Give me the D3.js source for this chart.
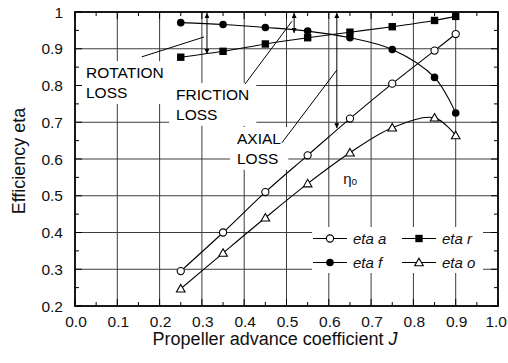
<!DOCTYPE html>
<html>
<head>
<meta charset="utf-8">
<script src="https://cdn.jsdelivr.net/npm/d3@7/dist/d3.min.js"></script>
<style>
  html, body { margin: 0; padding: 0; background: #fff; }
  svg { display: block; font-family: "Liberation Sans", Arial, Helvetica, sans-serif; }
</style>
</head>
<body>
<svg id="chart" width="508" height="363"></svg>
<script>
// Advance coefficient J and the efficiency components
const advanceJ = [0.25, 0.35, 0.45, 0.55, 0.65, 0.75, 0.85, 0.90];
const etaA = [0.295, 0.400, 0.510, 0.610, 0.710, 0.805, 0.895, 0.940];
const etaR = [0.877, 0.893, 0.913, 0.930, 0.945, 0.960, 0.977, 0.988];
const etaF = [0.971, 0.966, 0.958, 0.948, 0.930, 0.898, 0.822, 0.725];
const etaO = [0.247, 0.344, 0.440, 0.533, 0.617, 0.685, 0.712, 0.664];

const xTickValues = [0, 0.1, 0.2, 0.3, 0.4, 0.5, 0.6, 0.7, 0.8, 0.9, 1.0];
const xTickLabels = ["0.0", "0.1", "0.2", "0.3", "0.4", "0.5", "0.6", "0.7", "0.8", "0.9", "1.0"];
const yTickValues = [0.2, 0.3, 0.4, 0.5, 0.6, 0.7, 0.8, 0.9, 1.0];
const yTickLabels = ["0.2", "0.3", "0.4", "0.5", "0.6", "0.7", "0.8", "0.9", "1"];

// Loss annotations (data units)
const lossLabels = [
  { lines: ["ROTATION", "LOSS"], j: 0.026, eta: 0.820 },
  { lines: ["FRICTION", "LOSS"], j: 0.239, eta: 0.7605 },
  { lines: ["AXIAL", "LOSS"], j: 0.383, eta: 0.6408 }
];
const lossArrows = [
  { j: 0.312, top: 1.0, bottom: 0.886 },
  { j: 0.518, top: 1.0, bottom: 0.943 },
  { j: 0.619, top: 1.0, bottom: 0.684 }
];
const leaderLines = [
  { j1: 0.158, e1: 0.878, j2: 0.305, e2: 0.932 },
  { j1: 0.402, e1: 0.804, j2: 0.513, e2: 0.975 },
  { j1: 0.489, e1: 0.644, j2: 0.619, e2: 0.842 }
];
const etaOLabel = { j: 0.634, eta: 0.532 };

const series = [
  { name: "eta a", values: etaA, marker: "circle-open" },
  { name: "eta r", values: etaR, marker: "square" },
  { name: "eta f", values: etaF, marker: "circle-filled" },
  { name: "eta o", values: etaO, marker: "triangle" }
];

const margin = { left: 75, top: 12, right: 10, bottom: 57 };
const W = 508, H = 363;
const pw = W - margin.left - margin.right;   // 423
const ph = H - margin.top - margin.bottom;   // 294

const svg = d3.select("#chart");
const g = svg.append("g").attr("transform", `translate(${margin.left},${margin.top})`);

const x = d3.scaleLinear().domain([0, 1]).range([0, pw]);
const y = d3.scaleLinear().domain([0.2, 1.0]).range([ph, 0]);

const ink = "#000";
const gridInk = "#3c3c3c";

// grid lines
const grid = g.append("g");
grid.selectAll("line.vx").data(xTickValues.slice(1, -1)).join("line")
  .attr("x1", d => x(d)).attr("x2", d => x(d))
  .attr("y1", 0).attr("y2", ph)
  .attr("stroke", gridInk).attr("stroke-width", 1);
grid.selectAll("line.hy").data(yTickValues.slice(1, -1)).join("line")
  .attr("y1", d => y(d)).attr("y2", d => y(d))
  .attr("x1", 0).attr("x2", pw)
  .attr("stroke", gridInk).attr("stroke-width", 1);

// loss label texts with white backing that breaks the grid
const labelG = g.append("g");
const fs = 15.5;
lossLabels.forEach(L => {
  const t = labelG.append("text")
    .attr("x", x(L.j)).attr("y", y(L.eta))
    .attr("font-size", fs).attr("fill", ink);
  L.lines.forEach((s, i) => {
    t.append("tspan").attr("x", x(L.j)).attr("dy", i === 0 ? 0 : 19.8).text(s);
  });
  const bb = t.node().getBBox();
  labelG.insert("rect", "text")
    .attr("x", bb.x - 7).attr("y", bb.y - 3)
    .attr("width", bb.width + 14).attr("height", bb.height + 6)
    .attr("fill", "#fff");
});

// legend background
const legX = 312, legY = 227, legW = 171, legH = 46;
g.append("rect")
  .attr("x", legX - margin.left).attr("y", legY - margin.top)
  .attr("width", legW).attr("height", legH)
  .attr("fill", "#fff");

// ticks: major 0.1 and minor 0.05, pointing inward on every side
const xMajor = xTickValues;
const xMinor = d3.range(0.05, 1.0, 0.1);
const yMajor = yTickValues;
const yMinor = d3.range(0.25, 1.0, 0.1);
const tickG = g.append("g").attr("stroke", ink).attr("stroke-width", 1);
[[xMajor, 7], [xMinor, 4]].forEach(([vals, len]) => {
  vals.forEach(v => {
    tickG.append("line").attr("x1", x(v)).attr("x2", x(v)).attr("y1", ph).attr("y2", ph - len);
    tickG.append("line").attr("x1", x(v)).attr("x2", x(v)).attr("y1", 0).attr("y2", len);
  });
});
[[yMajor, 7], [yMinor, 4]].forEach(([vals, len]) => {
  vals.forEach(v => {
    tickG.append("line").attr("y1", y(v)).attr("y2", y(v)).attr("x1", 0).attr("x2", len);
    tickG.append("line").attr("y1", y(v)).attr("y2", y(v)).attr("x1", pw).attr("x2", pw - len);
  });
});

// frame
g.append("rect").attr("x", 0).attr("y", 0).attr("width", pw).attr("height", ph)
  .attr("fill", "none").attr("stroke", ink).attr("stroke-width", 1.8);

// axis labels (the last J label is kept inside the page edge)
const axG = g.append("g").attr("font-size", 15.5).attr("fill", "#111");
axG.selectAll("text.xl").data(xTickValues).join("text")
  .attr("x", (d, i) => i === xTickValues.length - 1 ? W - margin.left - 1 : x(d) + 1)
  .attr("y", ph + 21)
  .attr("text-anchor", (d, i) => i === xTickValues.length - 1 ? "end" : "middle")
  .text((d, i) => xTickLabels[i]);
axG.selectAll("text.yl").data(yTickValues).join("text")
  .attr("x", -12).attr("y", d => y(d) + 5.5)
  .attr("text-anchor", "end").text((d, i) => yTickLabels[i]);

svg.append("text")
  .attr("x", 275).attr("y", 345)
  .attr("text-anchor", "middle").attr("font-size", 18).attr("fill", "#111")
  .text("Propeller advance coefficient ")
  .append("tspan").attr("font-style", "italic").text("J");
svg.append("text")
  .attr("transform", "translate(25,161) rotate(-90)")
  .attr("text-anchor", "middle").attr("font-size", 18).attr("fill", "#111")
  .text("Efficiency eta");

// curves
const line = d3.line()
  .x(d => x(d[0])).y(d => y(d[1]))
  .curve(d3.curveCatmullRom.alpha(0.5));
const curveG = g.append("g");
series.forEach(s => {
  curveG.append("path")
    .datum(advanceJ.map((j, i) => [j, s.values[i]]))
    .attr("d", line).attr("fill", "none")
    .attr("stroke", ink).attr("stroke-width", 1.1);
});

// markers
function drawMarker(sel, kind, cx, cy) {
  if (kind === "circle-open") {
    sel.append("circle").attr("cx", cx).attr("cy", cy).attr("r", 3.6)
      .attr("fill", "#fff").attr("stroke", ink).attr("stroke-width", 1.1);
  } else if (kind === "circle-filled") {
    sel.append("circle").attr("cx", cx).attr("cy", cy).attr("r", 3.8).attr("fill", ink);
  } else if (kind === "square") {
    sel.append("rect").attr("x", cx - 3.7).attr("y", cy - 3.7)
      .attr("width", 7.4).attr("height", 7.4).attr("fill", ink);
  } else if (kind === "triangle") {
    const r = 4.3;
    sel.append("path")
      .attr("d", `M${cx},${cy - r}L${cx + r},${cy + r * 0.75}L${cx - r},${cy + r * 0.75}Z`)
      .attr("fill", "#fff").attr("stroke", ink).attr("stroke-width", 1.1);
  }
}
const markG = g.append("g");
series.forEach(s => {
  advanceJ.forEach((j, i) => drawMarker(markG, s.marker, x(j), y(s.values[i])));
});

// double-headed loss arrows and leader lines
const defs = svg.append("defs");
defs.append("marker").attr("id", "head")
  .attr("viewBox", "0 0 10 10").attr("refX", 10).attr("refY", 5)
  .attr("markerWidth", 6).attr("markerHeight", 5)
  .attr("markerUnits", "userSpaceOnUse")
  .attr("orient", "auto-start-reverse")
  .append("path").attr("d", "M0,0L10,5L0,10Z").attr("fill", ink);

const annG = g.append("g").attr("stroke", ink).attr("stroke-width", 1);
lossArrows.forEach(a => {
  annG.append("line")
    .attr("x1", x(a.j)).attr("x2", x(a.j))
    .attr("y1", y(a.top) + 1).attr("y2", y(a.bottom))
    .attr("marker-start", "url(#head)").attr("marker-end", "url(#head)");
});
leaderLines.forEach(l => {
  annG.append("line")
    .attr("x1", x(l.j1)).attr("y1", y(l.e1))
    .attr("x2", x(l.j2)).attr("y2", y(l.e2));
});

// eta_o label
const eo = g.append("text").attr("x", x(etaOLabel.j)).attr("y", y(etaOLabel.eta))
  .attr("font-size", 15).attr("fill", "#111");
eo.append("tspan").text("η");
eo.append("tspan").attr("font-size", 10).attr("dy", 1).text("o");

// legend
const legItems = [
  { s: series[0], col: 0, row: 0 },
  { s: series[1], col: 1, row: 0 },
  { s: series[2], col: 0, row: 1 },
  { s: series[3], col: 1, row: 1 }
];
const legG = svg.append("g");
legItems.forEach(it => {
  const x0 = legX + 1 + it.col * 89;
  const yy = legY + 11.5 + it.row * 24;
  legG.append("line").attr("x1", x0).attr("x2", x0 + 34)
    .attr("y1", yy).attr("y2", yy).attr("stroke", ink).attr("stroke-width", 1.1);
  drawMarker(legG, it.s.marker, x0 + 17, yy);
  legG.append("text").attr("x", x0 + 40).attr("y", yy + 5)
    .attr("font-size", 15).attr("font-style", "italic").attr("fill", "#111")
    .text(it.s.name);
});
</script>
</body>
</html>
